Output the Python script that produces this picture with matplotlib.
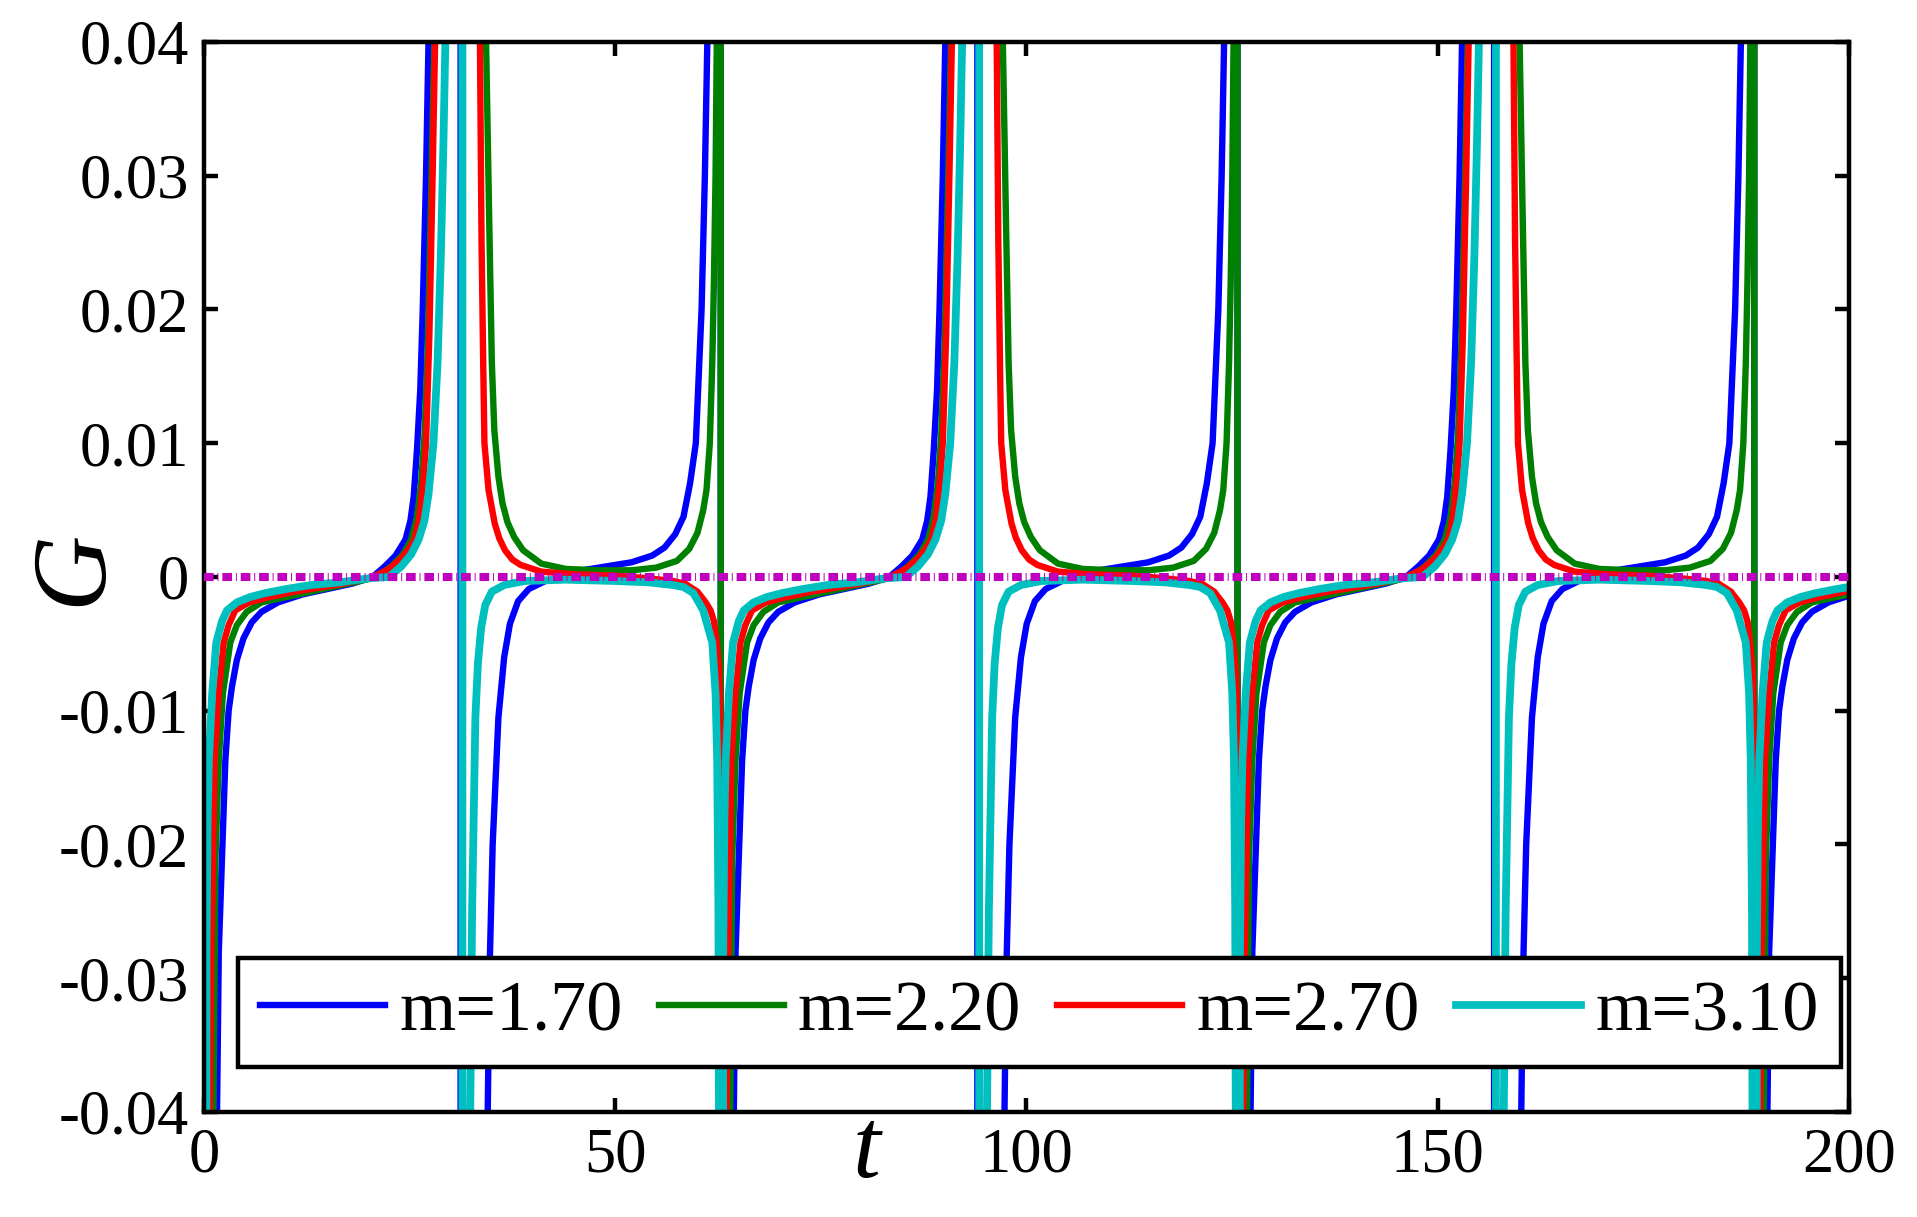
import numpy as np
import matplotlib
matplotlib.use("Agg")
import matplotlib.pyplot as plt

plt.rcParams['font.family'] = ['Liberation Serif', 'DejaVu Serif']
plt.rcParams['axes.unicode_minus'] = False

# ---- data ---------------------------------------------------------------
# positions (t) where every curve repeats its pattern (A-type poles)
pole_starts = [0.0, 62.83, 125.66, 188.50]

labels = ['m=1.70', 'm=2.20', 'm=2.70', 'm=3.10']

# one period of each curve: offset s from pole start, value G
s_m170 = [0.0, 1.2, 1.5, 1.8, 2.3, 2.6, 3.0, 3.4, 4.0, 4.8, 5.8, 7.0, 9.0, 12.0, 15.0, 18.0,
          20.5, 22.0, 23.3, 24.5, 25.1, 25.5, 25.9, 26.3, 26.6, 27.0, 27.3, 27.8, 29.0, 30.5,
          31.2, 31.2, 33.5, 34.3, 34.7, 35.1, 35.8, 36.5, 37.2, 38.2, 39.5, 41.5, 44.0, 46.0,
          49.0, 52.0, 54.5, 56.0, 57.3, 58.3, 59.1, 59.8, 60.5, 60.9, 61.2, 61.7, 62.3, 62.83]
G_m170 = [-10, -0.08, -0.045, -0.028, -0.019, -0.0137, -0.010, -0.0082, -0.0062, -0.0046,
          -0.0034, -0.0026, -0.0019, -0.0013, -0.0009, -0.0005, 0.0, 0.0008, 0.0016, 0.0028,
          0.0042, 0.006, 0.0095, 0.014, 0.02, 0.03, 0.04, 0.07, 0.2, 1.5, 10, -10, -0.2, -0.05,
          -0.03, -0.02, -0.0105, -0.006, -0.0035, -0.0018, -0.0009, -0.0003, 0.0, 0.0005,
          0.0008, 0.0011, 0.0016, 0.0022, 0.0032, 0.0045, 0.007, 0.01, 0.02, 0.03, 0.04, 0.08,
          0.3, 10]

s_m220 = [0.0, 0.9, 1.15, 1.3, 1.4, 1.8, 2.3, 3.2, 4.0, 5.2, 7.0, 10.0, 13.0, 16.0, 19.0,
          21.0, 22.8, 24.2, 25.2, 25.9, 26.4, 26.8, 27.2, 27.6, 28.0, 28.6, 29.5, 31.42, 32.5,
          33.5, 34.0, 34.3, 34.7, 35.0, 35.3, 35.8, 36.3, 36.9, 37.7, 38.8, 41.0, 44.0, 48.0,
          52.0, 55.0, 57.5, 59.0, 60.0, 60.7, 61.1, 61.5, 61.8, 62.0, 62.2, 62.35, 62.55, 62.83]
G_m220 = [-10, -0.1, -0.04, -0.028, -0.021, -0.0137, -0.0087, -0.0049, -0.0036, -0.0026,
          -0.0019, -0.0015, -0.0011, -0.0007, -0.0003, 0.0, 0.0008, 0.0017, 0.0028, 0.0045,
          0.007, 0.0105, 0.017, 0.028, 0.04, 0.07, 0.2, 10, 0.3, 0.08, 0.05, 0.04, 0.026,
          0.016, 0.011, 0.0075, 0.0055, 0.0041, 0.003, 0.002, 0.001, 0.0006, 0.0005, 0.0005,
          0.0007, 0.0012, 0.0021, 0.0033, 0.005, 0.0065, 0.01, 0.016, 0.022, 0.03, 0.04, 0.1,
          10]

s_m270 = [0.0, 0.3, 0.7, 0.9, 1.1, 1.3, 1.8, 2.4, 3.0, 3.8, 5.5, 8.0, 11.0, 14.0, 17.0, 20.5,
          22.5, 24.0, 25.0, 25.6, 26.2, 26.7, 27.0, 27.4, 27.8, 28.1, 28.7, 29.8, 31.42, 32.8,
          33.3, 33.55, 33.75, 33.95, 34.1, 34.6, 35.35, 35.9, 36.6, 37.5, 38.5, 41.0, 45.0,
          50.0, 54.0, 57.0, 58.5, 60.0, 61.0, 61.6, 62.0, 62.35, 62.6, 62.73, 62.8, 62.83]
G_m270 = [-10, -0.2, -0.04, -0.028, -0.021, -0.0137, -0.0087, -0.0049, -0.0036, -0.0025,
          -0.0019, -0.0015, -0.0011, -0.0008, -0.0005, 0.0, 0.0006, 0.0014, 0.0022, 0.0028,
          0.0045, 0.0075, 0.01, 0.018, 0.03, 0.04, 0.08, 0.3, 10, 0.2, 0.06, 0.04, 0.025,
          0.016, 0.01, 0.0065, 0.004, 0.0029, 0.002, 0.0013, 0.0009, 0.0004, 0.0002, 0.0001,
          -0.0001, -0.0003, -0.0005, -0.0011, -0.0019, -0.0025, -0.0033, -0.005, -0.0068,
          -0.009, -0.02, -10]

s_m310 = [0.0, 0.15, 0.3, 0.45, 0.6, 1.0, 1.5, 2.2, 2.8, 4.0, 5.6, 7.5, 10.0, 13.0, 16.5, 20.0,
          22.5, 24.0, 25.2, 26.1, 26.8, 27.3, 27.9, 28.4, 28.8, 29.1, 29.35, 29.8, 30.5, 31.42,
          31.42, 31.9, 32.3, 32.6, 33.0, 33.3, 33.7, 34.2, 35.0, 36.5, 39.0, 44.0, 50.0, 54.0,
          57.0, 58.3, 59.5, 60.7, 61.8, 62.2, 62.4, 62.55, 62.7, 62.83]
G_m310 = [-10, -0.2, -0.028, -0.018, -0.0137, -0.0087, -0.0049, -0.0033, -0.0025, -0.0019,
          -0.0015, -0.0012, -0.0009, -0.0006, -0.0004, -0.0001, 0.0, 0.0008, 0.0017, 0.0028,
          0.0042, 0.0062, 0.01, 0.016, 0.024, 0.032, 0.04, 0.07, 0.2, 10, -10, -0.2, -0.045,
          -0.025, -0.0105, -0.0065, -0.0038, -0.0021, -0.0011, -0.0006, -0.0003, -0.0002,
          -0.0003, -0.0004, -0.0006, -0.00075, -0.0012, -0.0025, -0.0049, -0.0087, -0.0137,
          -0.025, -0.06, -10]

x_ticks = [0, 50, 100, 150, 200]
x_ticklabels = ['0', '50', '100', '150', '200']
y_ticks = [-0.04, -0.03, -0.02, -0.01, 0.0, 0.01, 0.02, 0.03, 0.04]
y_ticklabels = ['-0.04', '-0.03', '-0.02', '-0.01', '0', '0.01', '0.02', '0.03', '0.04']

# ---- figure ---------------------------------------------------------------
fig = plt.figure(figsize=(19.17, 12.17), dpi=100)
ax = fig.add_axes([0.1064, 0.0863, 0.8581, 0.8792])

series = [(s_m170, G_m170, '#0000FF', 4.6),
          (s_m220, G_m220, '#008000', 4.6),
          (s_m270, G_m270, '#FF0000', 4.6),
          (s_m310, G_m310, '#00BFBF', 5.6)]

for (s, g, col, lw), lab in zip(series, labels):
    t = np.concatenate([np.asarray(s) + p for p in pole_starts])
    gg = np.tile(np.asarray(g, dtype=float), len(pole_starts))
    ax.plot(t, gg, color=col, lw=lw, label=lab, zorder=2)

ax.axhline(0.0, color='#BF00BF', lw=5.8, dashes=(1.2, 0.48, 0.12, 0.48), zorder=3)

ax.set_xlim(0, 200)
ax.set_ylim(-0.04, 0.04)
ax.set_xticks(x_ticks)
ax.set_xticklabels(x_ticklabels)
ax.set_yticks(y_ticks)
ax.set_yticklabels(y_ticklabels)
ax.tick_params(direction='in', length=10, width=3.2, top=True, right=True,
               labelsize=45, pad=11)
for sp in ax.spines.values():
    sp.set_linewidth(3.2)

fig.text(75 / 1917, 1 - 568 / 1217, 'G', rotation=90, fontsize=76, style='italic',
         ha='center', va='center')
fig.text(866 / 1917, 1 - 1153 / 1217, 't', fontsize=72, style='italic',
         ha='center', va='center')

leg = ax.legend(loc='lower left', bbox_to_anchor=(0.0207, 0.042), ncol=4, fontsize=52,
                handlelength=1.73, handletextpad=0.2, columnspacing=0.5, borderpad=0.3,
                borderaxespad=0, frameon=True, fancybox=False, edgecolor='black',
                framealpha=1)
leg.get_frame().set_linewidth(3.2)
leg.set_zorder(10)

fig.savefig('out.png', dpi=100)
